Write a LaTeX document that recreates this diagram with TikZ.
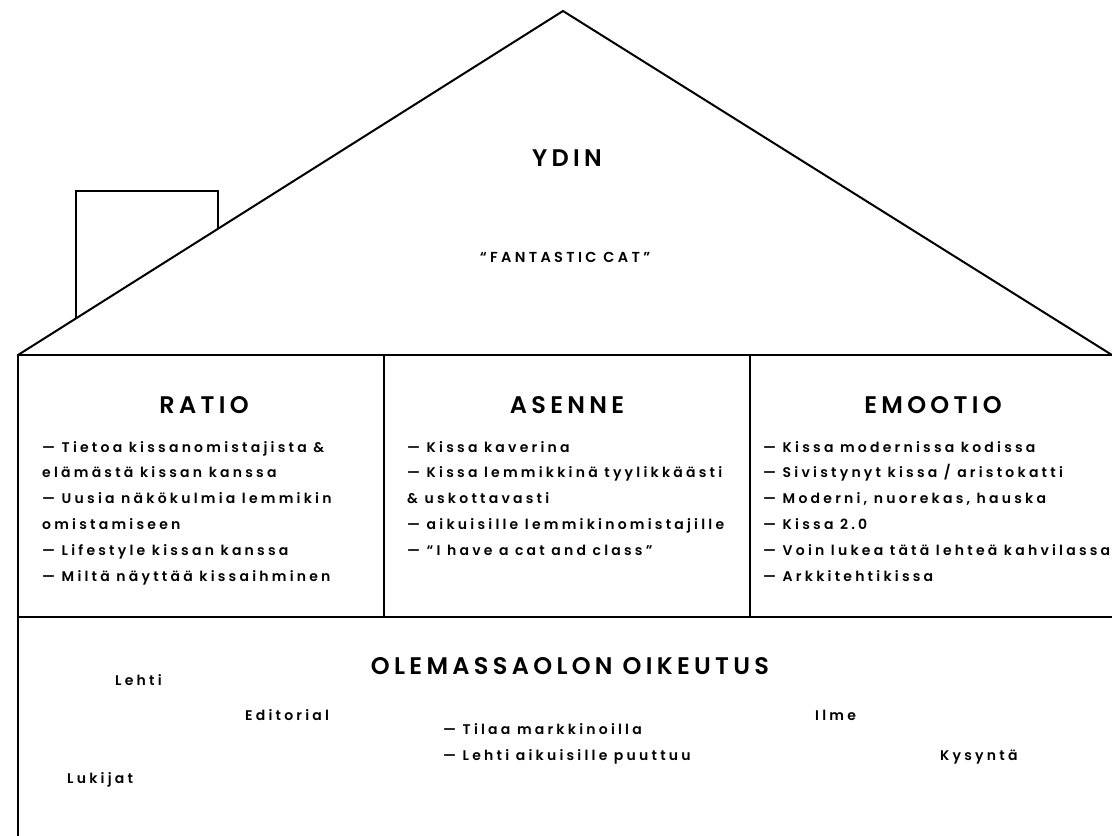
\documentclass[tikz,border=0pt]{standalone}
\usepackage{fontspec}
\setmainfont{Poppins}[LetterSpace=15]
\newfontfamily\headfont{Poppins SemiBold}[LetterSpace=18]
\newfontfamily\bodyfont{Poppins SemiBold}[LetterSpace=23]
\begin{document}
\begin{tikzpicture}[x=1pt,y=-1pt,
  wall/.style={line width=2pt, line join=miter},
  head/.style={font=\headfont\fontsize{24}{24}\selectfont, inner sep=0, anchor=base},
  sub/.style={font=\bodyfont\fontsize{14.5}{14.5}\selectfont, inner sep=0, anchor=base},
  item/.style={font=\bodyfont\fontsize{14}{14}\selectfont, inner sep=0, anchor=base west}]
\useasboundingbox (0,0) rectangle (1112,836);
% structure
\coordinate (apex) at (563,11);
\coordinate (eaveL) at (18,355);
\coordinate (eaveR) at (1112,355);
\coordinate (baseL) at (18,836);
\coordinate (m1t) at (384,355);
\coordinate (m1b) at (384,617);
\coordinate (m2t) at (750,355);
\coordinate (m2b) at (750,617);
\coordinate (floorL) at (18,617);
\coordinate (floorR) at (1112,617);
\coordinate (chL) at (76,318.4);
\coordinate (chLt) at (76,191);
\coordinate (chRt) at (218,191);
\coordinate (chR) at (218,228.8);
\draw[wall] (eaveL) -- (apex) -- (eaveR);
\draw[wall] (baseL) -- (eaveL) -- (eaveR);
\draw[wall] (m1t) -- (m1b);
\draw[wall] (m2t) -- (m2b);
\draw[wall] (floorL) -- (floorR);
\draw[wall] (chL) -- (chLt) -- (chRt) -- (chR);
% roof
\node[head] (ydin) at (567,166) {YDIN};
\node[sub] (fc) at (565,262) {“FANTASTIC CAT”};
% headings
\node[head] (ratio) at (204,413) {RATIO};
\node[head] (asenne) at (567,413) {ASENNE};
\node[head] (emootio) at (933,413) {EMOOTIO};
% ratio
\node[item] (r1) at (42,452) {— Tietoa kissanomistajista \&};
\node[item] (r2) at (42,477.8) {elämästä kissan kanssa};
\node[item] (r3) at (42,503.6) {— Uusia näkökulmia lemmikin};
\node[item] (r4) at (42,529.4) {omistamiseen};
\node[item] (r5) at (42,555.2) {— Lifestyle kissan kanssa};
\node[item] (r6) at (42,581) {— Miltä näyttää kissaihminen};
% asenne
\node[item] (a1) at (407,452) {— Kissa kaverina};
\node[item] (a2) at (407,477.8) {— Kissa lemmikkinä tyylikkäästi};
\node[item] (a3) at (407,503.6) {\& uskottavasti};
\node[item] (a4) at (407,529.4) {— aikuisille lemmikinomistajille};
\node[item] (a5) at (407,555.2) {— “I have a cat and class”};
% emootio
\node[item] (e1) at (763,452) {— Kissa modernissa kodissa};
\node[item] (e2) at (763,477.8) {— Sivistynyt kissa / aristokatti};
\node[item] (e3) at (763,503.6) {— Moderni, nuorekas, hauska};
\node[item] (e4) at (763,529.4) {— Kissa 2.0};
\node[item] (e5) at (763,555.2) {— Voin lukea tätä lehteä kahvilassa};
\node[item] (e6) at (763,581) {— Arkkitehtikissa};
% bottom
\node[head] (olem) at (570,674) {OLEMASSAOLON OIKEUTUS};
\node[item] (lehti) at (115,685) {Lehti};
\node[item] (edit) at (245,720) {Editorial};
\node[item] (lukijat) at (67,783) {Lukijat};
\node[item] (t1) at (443,734) {— Tilaa markkinoilla};
\node[item] (t2) at (443,760) {— Lehti aikuisille puuttuu};
\node[item] (ilme) at (815,720) {Ilme};
\node[item] (kysynta) at (940,760) {Kysyntä};
\end{tikzpicture}
\end{document}
